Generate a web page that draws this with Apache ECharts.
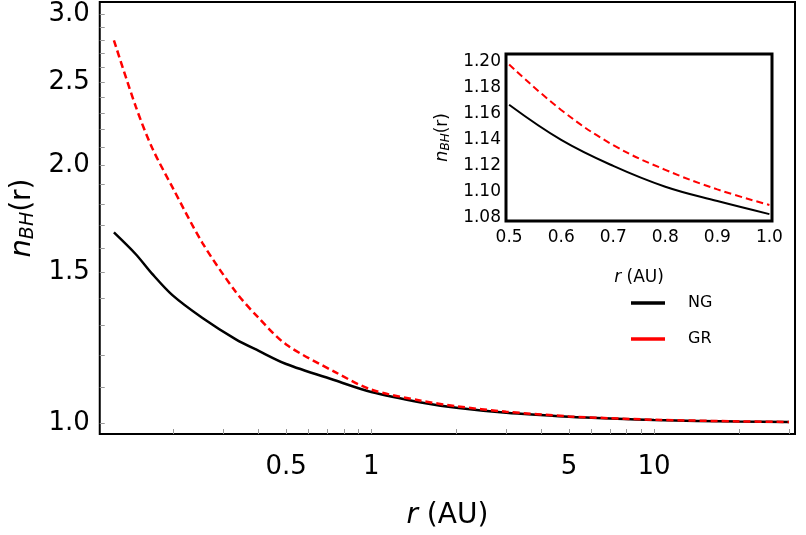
<!DOCTYPE html>
<html><head><meta charset="utf-8">
<script src="https://cdn.jsdelivr.net/npm/echarts@6/dist/echarts.min.js"></script>
<style>html,body{margin:0;background:#fff}#c{width:806px;height:535px}</style>
</head><body><div id="c"></div>
<script>
const rMain = [0.123,0.147,0.168,0.198,0.253,0.332,0.4,0.5,0.748,1,1.5,2,3,5,7,10,20,30];
const ngMain = [1.669,1.574,1.493,1.410,1.326,1.252,1.214,1.172,1.121,1.087,1.057,1.042,1.028,1.017,1.012,1.008,1.004,1.003];
const grMain = [2.797,2.34,2.094,1.885,1.622,1.422,1.326,1.235,1.146,1.094,1.062,1.046,1.031,1.018,1.013,1.009,1.0045,1.003];
const rInset = [0.5,0.6,0.7,0.8,0.9,1.0];
const ngInset = [1.167,1.14,1.12,1.104,1.093,1.083];
const grInset = [1.198,1.163,1.136,1.117,1.102,1.090];
const xTickLabels = [0.5,1,5,10];
const xMinor = [0.2,0.3,0.4,0.5,0.6,0.7,0.8,0.9,1,2,3,4,5,6,7,8,9,10,20,30];
const yTickLabels = [1.0,1.5,2.0,2.5,3.0];
const yMinor = [1.0,1.1,1.2,1.3,1.4,1.5,1.6,1.7,1.8,1.9,2.0,2.1,2.2,2.3,2.4,2.5,2.6,2.7,2.8,2.9,3.0];
const insetXTicks = [0.5,0.6,0.7,0.8,0.9,1.0];
const insetYTicks = [1.08,1.10,1.12,1.14,1.16,1.18,1.20];

const L = Math.log10;
const F = 'DejaVu Sans';
const ch = echarts.init(document.getElementById('c'));
const pair = (xs, ys, fx, fy) => xs.map((x,i)=>[fx(xs[i]), fy(ys[i])]);
const id = v=>v;
ch.setOption({
  animation:false,
  legend:{show:true, orient:'vertical', left:626, top:290, itemGap:20, itemWidth:34, itemHeight:10,
    textStyle:{fontFamily:F,fontSize:16,color:'#000',padding:[0,0,0,18]},
    data:[{name:'NG',icon:'path://M0,0L1,0L1,0.1L0,0.1Z'},{name:'GR',icon:'path://M0,0L1,0L1,0.1L0,0.1Z'}]},
  grid:[
    {left:93,right:11,top:2,bottom:88,show:true,borderColor:'#000',borderWidth:2,backgroundColor:'transparent'},
    {left:506,right:34,top:54,bottom:314,show:true,borderColor:'#000',borderWidth:3,backgroundColor:'#fff',z:5}
  ],
  xAxis:[
    {type:'value',gridIndex:0,min:L(0.1096),max:L(31.5),
     axisLine:{show:false,onZero:false},splitLine:{show:false},
     axisTick:{show:true,inside:true,length:5,customValues:xMinor.map(L),lineStyle:{color:'#999'}},
     axisLabel:{customValues:xTickLabels.map(L),formatter:v=>String(+Math.pow(10,v).toPrecision(3)),fontFamily:F,fontSize:26,color:'#000',margin:20},
     name:'{i|r} (AU)',nameLocation:'middle',nameGap:68,nameTextStyle:{fontFamily:F,fontSize:28,color:'#000',rich:{i:{fontStyle:'italic',fontFamily:F,fontSize:28}}}},
    {type:'value',gridIndex:1,min:0.494,max:1.005,
     axisLine:{show:false,onZero:false},splitLine:{show:false},
     axisTick:{show:true,inside:true,length:4,customValues:insetXTicks,lineStyle:{color:'#555'}},
     axisLabel:{customValues:insetXTicks,formatter:v=>v.toFixed(1),fontFamily:F,fontSize:17,color:'#000',margin:8},
     name:'{i|r} (AU)',nameLocation:'middle',nameGap:48,nameTextStyle:{fontFamily:F,fontSize:17,color:'#000',rich:{i:{fontStyle:'italic',fontFamily:F,fontSize:17}}}}
  ],
  yAxis:[
    {type:'value',gridIndex:0,min:L(0.971),max:L(3.10),
     axisLine:{show:false,onZero:false},splitLine:{show:false},
     axisTick:{show:true,inside:true,length:5,customValues:yMinor.map(L),lineStyle:{color:'#999'}},
     axisLabel:{customValues:yTickLabels.map(L),formatter:v=>Math.pow(10,v).toFixed(1),fontFamily:F,fontSize:26,color:'#000',margin:10},
     name:'{i|n}{s|BH}{n|(r)}',nameLocation:'middle',nameGap:62,nameRotate:90,
     nameTextStyle:{fontFamily:F,fontSize:28,color:'#000',rich:{i:{fontStyle:'italic',fontFamily:F,fontSize:29},s:{fontStyle:'italic',fontFamily:F,fontSize:19,padding:[11,0,0,0]},n:{fontFamily:F,fontSize:28}}}},
    {type:'value',gridIndex:1,min:1.0777,max:1.206,
     axisLine:{show:false,onZero:false},splitLine:{show:false},
     axisTick:{show:true,inside:true,length:4,customValues:insetYTicks,lineStyle:{color:'#555'}},
     axisLabel:{customValues:insetYTicks,formatter:v=>v.toFixed(2),fontFamily:F,fontSize:17,color:'#000',margin:5},
     name:'{i|n}{s|BH}{n|(r)}',nameLocation:'middle',nameGap:54,nameRotate:90,
     nameTextStyle:{fontFamily:F,fontSize:17,color:'#000',rich:{i:{fontStyle:'italic',fontFamily:F,fontSize:18},s:{fontStyle:'italic',fontFamily:F,fontSize:12,padding:[7,0,0,0]},n:{fontFamily:F,fontSize:17}}}}
  ],
  series:[
    {name:'NG',type:'line',xAxisIndex:0,yAxisIndex:0,smooth:0.3,showSymbol:false,data:pair(rMain,ngMain,L,L),lineStyle:{color:'#000',width:2.5},itemStyle:{color:'#000'}},
    {name:'GR',type:'line',xAxisIndex:0,yAxisIndex:0,smooth:0.3,showSymbol:false,data:pair(rMain,grMain,L,L),lineStyle:{color:'#ff0000',width:2.5,type:[7,4]},itemStyle:{color:'#ff0000'}},
    {name:'NG',type:'line',xAxisIndex:1,yAxisIndex:1,smooth:0.4,showSymbol:false,data:pair(rInset,ngInset,id,id),lineStyle:{color:'#000',width:2},z:10},
    {name:'GR',type:'line',xAxisIndex:1,yAxisIndex:1,smooth:0.4,showSymbol:false,data:pair(rInset,grInset,id,id),lineStyle:{color:'#ff0000',width:2,type:[7,4]},z:10}
  ]
});
</script></body></html>
